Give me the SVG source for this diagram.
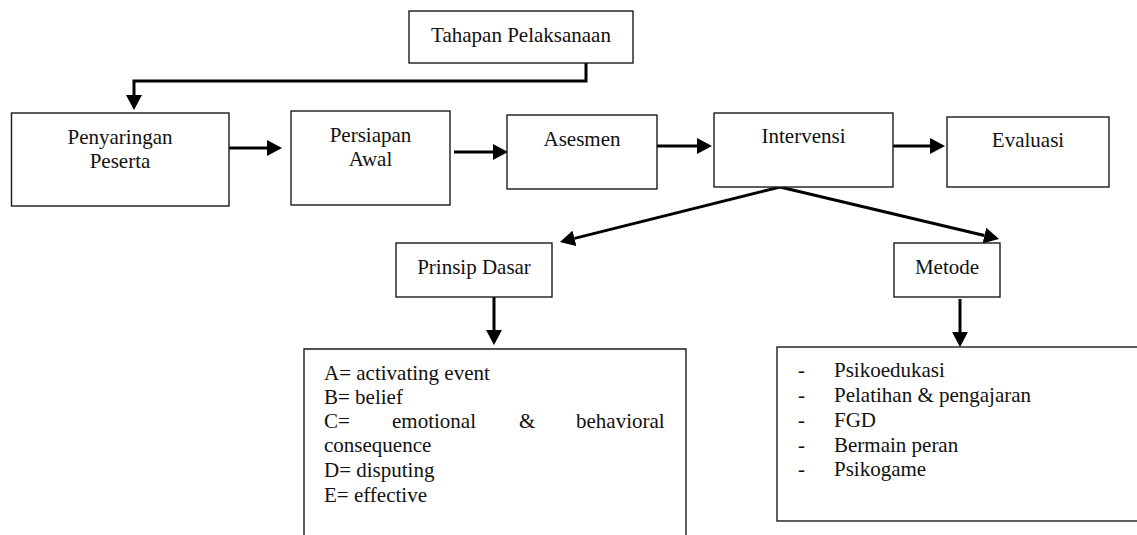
<svg xmlns="http://www.w3.org/2000/svg" width="1137" height="535" viewBox="0 0 1137 535">
<defs>
<style>
.box{fill:#fff;stroke:#1a1a1a;stroke-width:1.4}
.open{fill:none;stroke:#1a1a1a;stroke-width:1.4}
.lbl{font-family:'Liberation Serif','DejaVu Serif',serif;font-size:21px;fill:#111}
.c{text-anchor:middle}
.con{fill:none;stroke:#000;stroke-width:3}
</style>
<marker id="ah" markerUnits="userSpaceOnUse" markerWidth="16" markerHeight="16" refX="0" refY="8" orient="auto" viewBox="0 0 16 16">
<path d="M0,0 L15,8 L0,16 z" fill="#000"/>
</marker>
</defs>
<rect width="1137" height="535" fill="#fff"/>
<g id="connectors">
<path class="con" d="M586,63 V81 H134 V95" marker-end="url(#ah)"/>
<line class="con" x1="229" y1="148" x2="267" y2="148" marker-end="url(#ah)"/>
<line class="con" x1="454" y1="152" x2="493" y2="152" marker-end="url(#ah)"/>
<line class="con" x1="657" y1="146" x2="697" y2="146" marker-end="url(#ah)"/>
<line class="con" x1="890" y1="146" x2="930" y2="146" marker-end="url(#ah)"/>
<line class="con" x1="780" y1="187" x2="574.5" y2="238.4" marker-end="url(#ah)"/>
<line class="con" x1="780" y1="187" x2="984.4" y2="235.5" marker-end="url(#ah)"/>
<line class="con" x1="494" y1="297" x2="494" y2="330" marker-end="url(#ah)"/>
<line class="con" x1="960" y1="299" x2="960" y2="332" marker-end="url(#ah)"/>
</g>
<g id="tahapan">
<rect class="box" x="409" y="11" width="224" height="52"/>
<text class="lbl c" x="521" y="42" font-family="Liberation Serif, serif">Tahapan Pelaksanaan</text>
</g>
<g id="penyaringan">
<rect class="box" x="11.5" y="113" width="217.5" height="93"/>
<text class="lbl c" x="120" y="144">Penyaringan</text>
<text class="lbl c" x="120" y="168">Peserta</text>
</g>
<g id="persiapan">
<rect class="box" x="291" y="111" width="159" height="94"/>
<text class="lbl c" x="370.5" y="142">Persiapan</text>
<text class="lbl c" x="370.5" y="166">Awal</text>
</g>
<g id="asesmen">
<rect class="box" x="507" y="115" width="150" height="74"/>
<text class="lbl c" x="582" y="146">Asesmen</text>
</g>
<g id="intervensi">
<rect class="box" x="714" y="113" width="179" height="74"/>
<text class="lbl c" x="803.5" y="143">Intervensi</text>
</g>
<g id="evaluasi">
<rect class="box" x="947" y="117" width="162" height="70"/>
<text class="lbl c" x="1028" y="147">Evaluasi</text>
</g>
<g id="prinsip">
<rect class="box" x="396" y="243" width="156" height="54"/>
<text class="lbl c" x="474" y="274">Prinsip Dasar</text>
</g>
<g id="metode">
<rect class="box" x="894" y="243" width="106" height="54"/>
<text class="lbl c" x="947" y="274">Metode</text>
</g>
<g id="abc">
<path class="open" d="M304,536 V349 H686 V536"/>
<text class="lbl" x="324" y="380">A= activating event</text>
<text class="lbl" x="324" y="404">B= belief</text>
<text class="lbl" y="428"><tspan x="324">C=</tspan><tspan x="392">emotional</tspan><tspan x="519">&amp;</tspan><tspan x="576">behavioral</tspan></text>
<text class="lbl" x="324" y="452">consequence</text>
<text class="lbl" x="324" y="477">D= disputing</text>
<text class="lbl" x="324" y="502">E= effective</text>
</g>
<g id="metode-list">
<rect class="box" x="777" y="347" width="380" height="174"/>
<text class="lbl" x="798" y="377">-</text><text class="lbl" x="834" y="377">Psikoedukasi</text>
<text class="lbl" x="798" y="402">-</text><text class="lbl" x="834" y="402">Pelatihan &amp; pengajaran</text>
<text class="lbl" x="798" y="427">-</text><text class="lbl" x="834" y="427">FGD</text>
<text class="lbl" x="798" y="452">-</text><text class="lbl" x="834" y="452">Bermain peran</text>
<text class="lbl" x="798" y="476">-</text><text class="lbl" x="834" y="476">Psikogame</text>
</g>
</svg>
